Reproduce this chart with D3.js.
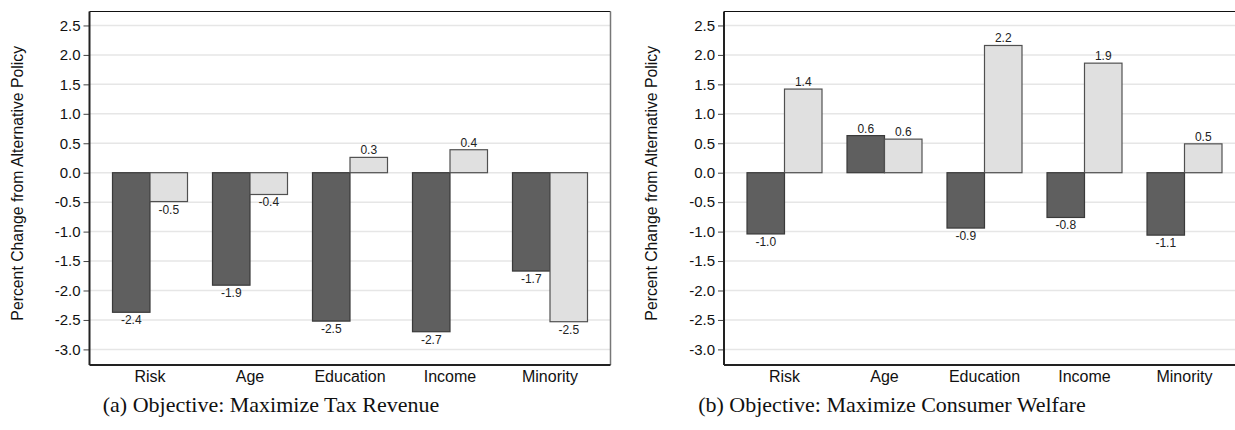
<!DOCTYPE html>
<html>
<head>
<meta charset="utf-8">
<script src="https://cdn.jsdelivr.net/npm/d3@7"></script>
<style>
  body { margin: 0; background: #fff; }
  svg { display: block; }
</style>
</head>
<body>
<svg id="chart" width="1235" height="430"></svg>
<script>
const categories = ["Risk", "Age", "Education", "Income", "Minority"];
const seriesKeys = ["dark", "light"];

// (a) Objective: Maximize Tax Revenue
const taxDark = [-2.37, -1.91, -2.52, -2.70, -1.67];
const taxLight = [-0.49, -0.37, 0.26, 0.39, -2.53];

// (b) Objective: Maximize Consumer Welfare
const welfareDark = [-1.04, 0.63, -0.94, -0.76, -1.06];
const welfareLight = [1.42, 0.57, 2.16, 1.86, 0.49];

const yTicks = [2.5, 2.0, 1.5, 1.0, 0.5, 0.0, -0.5, -1.0, -1.5, -2.0, -2.5, -3.0];
const yLabel = "Percent Change from Alternative Policy";
const captions = ["(a) Objective: Maximize Tax Revenue", "(b) Objective: Maximize Consumer Welfare"];

const TOP = 11.5;
const BOTTOM = 365;
const PLOT_W = 521;
const COLORS = { dark: "#5f5f5f", light: "#e0e0e0" };
const STROKES = { dark: "#3a3a3a", light: "#505050" };
const SANS = "'Liberation Sans', Arial, sans-serif";

const svg = d3.select("#chart");

const panels = [
  { x0: 89.5, dark: taxDark, light: taxLight, caption: captions[0], capX: 271 },
  { x0: 724, dark: welfareDark, light: welfareLight, caption: captions[1], capX: 892 },
];

const yScale = d3.scaleLinear().domain([-3.265, 2.737]).range([BOTTOM, TOP]);

panels.forEach((p) => {
  const g = svg.append("g");
  const x0 = d3
    .scaleBand()
    .domain(categories)
    .range([p.x0, p.x0 + PLOT_W])
    .paddingInner(0.25)
    .paddingOuter(0.23);
  const x1 = d3.scaleBand().domain(seriesKeys).range([0, x0.bandwidth()]);

  // grid
  g.selectAll("line.grid")
    .data(yTicks)
    .enter()
    .append("line")
    .attr("x1", p.x0)
    .attr("x2", p.x0 + PLOT_W)
    .attr("y1", (d) => yScale(d))
    .attr("y2", (d) => yScale(d))
    .attr("stroke", "#e6e6e6")
    .attr("stroke-width", 1.5);

  // y axis
  const yAxis = g
    .append("g")
    .attr("transform", `translate(${p.x0}, 0)`)
    .call(
      d3.axisLeft(yScale)
        .tickValues(yTicks)
        .tickSize(6)
        .tickPadding(3)
        .tickFormat(d3.format(".1f"))
    );
  yAxis.select(".domain").remove();
  yAxis.selectAll(".tick line").attr("stroke", "#444");
  yAxis.selectAll(".tick text")
    .style("font-family", SANS)
    .style("font-size", "15px")
    .attr("fill", "#111")
    .text((d) => d3.format(".1f")(d).replace("−", "-"));

  // bars
  const rows = categories.map((c, i) => ({ cat: c, dark: p.dark[i], light: p.light[i] }));
  const groups = g.selectAll("g.grp")
    .data(rows)
    .enter()
    .append("g")
    .attr("transform", (d) => `translate(${x0(d.cat)}, 0)`);

  groups.selectAll("rect")
    .data((d) => seriesKeys.map((k) => ({ key: k, value: d[k] })))
    .enter()
    .append("rect")
    .attr("x", (d) => x1(d.key))
    .attr("width", x1.bandwidth())
    .attr("y", (d) => yScale(Math.max(0, d.value)))
    .attr("height", (d) => Math.abs(yScale(d.value) - yScale(0)))
    .attr("fill", (d) => COLORS[d.key])
    .attr("stroke", (d) => STROKES[d.key])
    .attr("stroke-width", 1.2);

  groups.selectAll("text")
    .data((d) => seriesKeys.map((k) => ({ key: k, value: d[k] })))
    .enter()
    .append("text")
    .attr("x", (d) => x1(d.key) + x1.bandwidth() / 2)
    .attr("y", (d) => (d.value < 0 ? yScale(d.value) + 12 : yScale(d.value) - 3))
    .attr("text-anchor", "middle")
    .style("font-family", SANS)
    .style("font-size", "12px")
    .attr("fill", "#222")
    .text((d) => d.value.toFixed(1));

  // frame
  g.append("line").attr("x1", p.x0).attr("x2", p.x0 + PLOT_W).attr("y1", TOP).attr("y2", TOP)
    .attr("stroke", "#111").attr("stroke-width", 1.2);
  g.append("line").attr("x1", p.x0 + PLOT_W).attr("x2", p.x0 + PLOT_W).attr("y1", TOP).attr("y2", BOTTOM)
    .attr("stroke", "#777").attr("stroke-width", 1.5);
  g.append("line").attr("x1", p.x0).attr("x2", p.x0).attr("y1", TOP).attr("y2", BOTTOM)
    .attr("stroke", "#222").attr("stroke-width", 2);
  g.append("line").attr("x1", p.x0).attr("x2", p.x0 + PLOT_W).attr("y1", BOTTOM).attr("y2", BOTTOM)
    .attr("stroke", "#222").attr("stroke-width", 2);

  // category labels
  g.selectAll("text.cat")
    .data(categories)
    .enter()
    .append("text")
    .attr("x", (d) => x0(d) + x0.bandwidth() / 2)
    .attr("y", 382)
    .attr("text-anchor", "middle")
    .style("font-family", SANS)
    .style("font-size", "16px")
    .attr("fill", "#111")
    .text((d) => d);

  // y label
  g.append("text")
    .attr("transform", `translate(${p.x0 - 67}, ${(TOP + BOTTOM) / 2 - 5}) rotate(-90)`)
    .attr("text-anchor", "middle")
    .style("font-family", SANS)
    .style("font-size", "15.8px")
    .attr("fill", "#111")
    .text(yLabel);

  // caption
  svg.append("text")
    .attr("x", p.capX)
    .attr("y", 412)
    .attr("text-anchor", "middle")
    .style("font-family", "'Liberation Serif', 'Times New Roman', serif")
    .style("font-size", "22px")
    .attr("fill", "#111")
    .text(p.caption);
});
</script>
</body>
</html>
